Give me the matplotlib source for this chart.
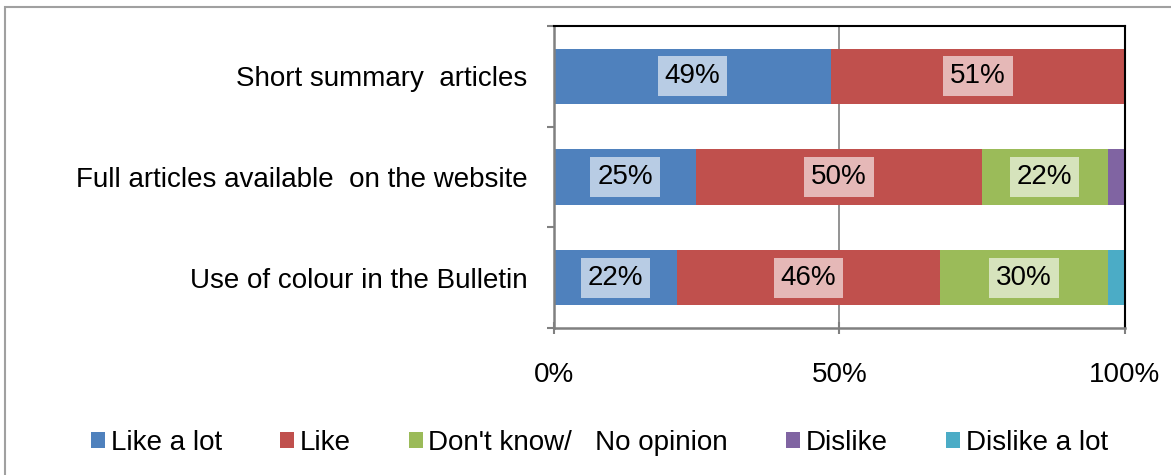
import numpy as np
import matplotlib.pyplot as plt
from matplotlib.patches import Rectangle

plt.rcParams['font.family'] = ['Liberation Sans', 'DejaVu Sans']

# data (percent of respondents)
categories = ["Use of colour in the Bulletin",
              "Full articles available  on the website",
              "Short summary  articles"]
series_names = ["Like a lot", "Like", "Don't know/   No opinion", "Dislike", "Dislike a lot"]
like_a_lot = [21.6, 24.9, 48.6]
like = [46.0, 50.0, 51.4]
dont_know = [29.5, 22.1, 0.0]
dislike = [0.0, 3.0, 0.0]
dislike_a_lot = [2.9, 0.0, 0.0]
colors = ["#4F81BD", "#C0504D", "#9BBB59", "#8064A2", "#4BACC6"]

series = [like_a_lot, like, dont_know, dislike, dislike_a_lot]
fs = 20

fig = plt.figure(figsize=(11.71, 4.75), dpi=100)
ax = fig.add_axes([0.473, 0.3095, 0.4876, 0.6358])

y = np.arange(len(categories))
left = np.zeros(len(categories))
for name, vals, col in zip(series_names, series, colors):
    vals = np.array(vals)
    ax.barh(y, vals, left=left, height=0.55, color=col, label=name, zorder=2)
    for yi, l, v in zip(y, left, vals):
        if v >= 10:
            ax.text(l + v / 2, yi, "%d%%" % round(v), ha="center", va="center",
                    fontsize=fs, zorder=3,
                    bbox=dict(facecolor="white", alpha=0.6, edgecolor="none",
                              boxstyle="square,pad=0.25"))
    left += vals

ax.set_xlim(0, 100)
ax.set_ylim(-0.5, 2.5)
ax.set_xticks([0, 50, 100])
ax.set_xticklabels(["0%", "50%", "100%"], fontsize=fs)
ax.set_yticks(y)
ax.set_yticklabels(categories, fontsize=fs)
ax.set_yticks([-0.5, 0.5, 1.5, 2.5], minor=True)
ax.tick_params(axis="y", which="major", length=0, pad=19)
ax.tick_params(axis="y", which="minor", length=5, color="#808080", width=1.5, direction="out")
ax.tick_params(axis="x", length=9, color="#808080", width=1.5, direction="inout", pad=20)
ax.axvline(50, color="#808080", lw=1.2, zorder=1)

ax.spines["left"].set_color("#808080")
ax.spines["left"].set_linewidth(1.8)
ax.spines["bottom"].set_color("#808080")
ax.spines["bottom"].set_linewidth(1.8)
ax.spines["top"].set_color("black")
ax.spines["right"].set_color("black")
ax.spines["top"].set_linewidth(1.5)
ax.spines["right"].set_linewidth(1.5)

handles, labels = ax.get_legend_handles_labels()
fig.legend(handles, labels, loc="center", bbox_to_anchor=(0.512, 0.068), ncol=5,
           frameon=False, fontsize=fs, handlelength=0.5, handleheight=0.5,
           handletextpad=0.2, columnspacing=2.1)

fig.patches.append(Rectangle((0.004, -0.02), 1.0, 1.006, transform=fig.transFigure,
                             fill=False, edgecolor="#a0a0a0", lw=1.5))

fig.savefig("out.png", dpi=100)
